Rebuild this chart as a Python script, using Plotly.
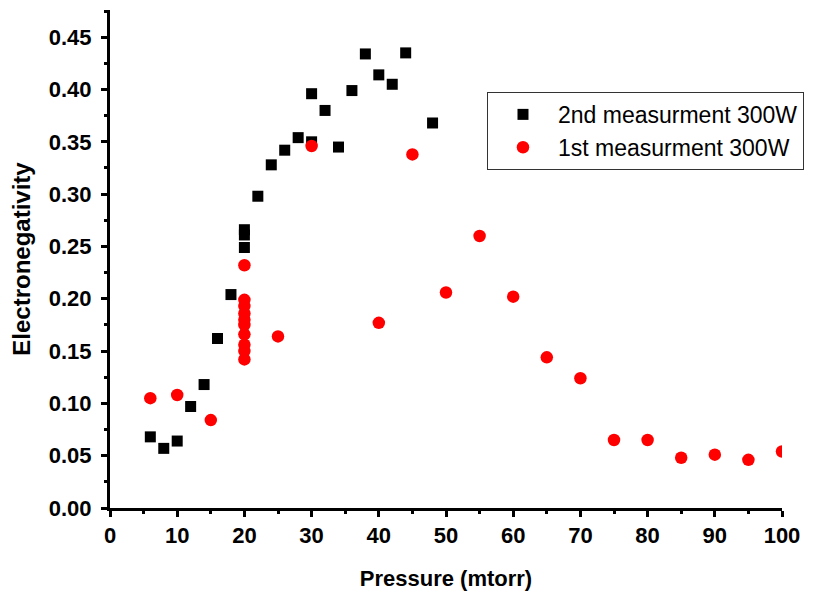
"""Electronegativity vs pressure, two measurement series at 300W."""

import plotly.graph_objects as go

# 2nd measurement 300W (black squares)
p2 = [6, 8, 10, 12, 14, 16, 18, 20, 20, 20, 22, 24, 26, 28, 30, 30,
      32, 34, 36, 38, 40, 42, 44, 48]
en2 = [0.068, 0.057, 0.064, 0.097, 0.118, 0.162, 0.204, 0.249, 0.261, 0.266,
       0.298, 0.328, 0.342, 0.354, 0.350, 0.396, 0.380, 0.345, 0.399, 0.434,
       0.414, 0.405, 0.435, 0.368]

# 1st measurement 300W (red circles)
p1 = [6, 10, 15, 20, 20, 20, 20, 20, 20, 20, 20, 20, 20, 25, 30, 40, 45,
      50, 55, 60, 65, 70, 75, 80, 85, 90, 95, 100]
en1 = [0.105, 0.108, 0.084, 0.232, 0.199, 0.193, 0.186, 0.180, 0.175, 0.166,
       0.156, 0.150, 0.142, 0.164, 0.346, 0.177, 0.338, 0.206, 0.260, 0.202,
       0.144, 0.124, 0.065, 0.065, 0.048, 0.051, 0.046, 0.054]

FONT = "Liberation Sans, Arial, sans-serif"

fig = go.Figure()

fig.add_trace(
    go.Scatter(
        x=p2,
        y=en2,
        mode="markers",
        name="2nd measurment 300W",
        marker={"symbol": "square", "size": 11, "color": "#000000"},
    )
)
fig.add_trace(
    go.Scatter(
        x=p1,
        y=en1,
        mode="markers",
        name="1st measurment 300W",
        marker={"symbol": "circle", "size": 12.5, "color": "#ff0000"},
    )
)

axis_common = {
    "showline": True,
    "linecolor": "#000000",
    "linewidth": 3,
    "showgrid": False,
    "zeroline": False,
    "automargin": False,
    "ticks": "outside",
    "ticklen": 6,
    "tickwidth": 2.5,
    "tickcolor": "#000000",
    "tickfont": {"family": FONT, "size": 22, "color": "#000000", "weight": "bold"},
}

# the page body adds an 8px offset, so margins are shifted to compensate
fig.update_layout(
    width=827,
    height=594,
    paper_bgcolor="#ffffff",
    plot_bgcolor="#ffffff",
    margin={"l": 102, "r": 53, "t": 2, "b": 94},
    font={"family": FONT, "color": "#000000"},
    xaxis={
        **axis_common,
        "range": [0, 100],
        "tick0": 0,
        "dtick": 10,
        "ticklabelstandoff": 0,
        "minor": {"dtick": 5, "ticks": "outside", "ticklen": 3,
                  "tickwidth": 2.5, "tickcolor": "#000000"},
        "title": {"text": "Pressure (mtorr)", "standoff": 24,
                  "font": {"family": FONT, "size": 22, "weight": "bold"}},
    },
    yaxis={
        **axis_common,
        "range": [0, 0.476],
        "tick0": 0,
        "dtick": 0.05,
        "tickformat": ".2f",
        "ticklabelstandoff": 5,
        "minor": {"dtick": 0.025, "ticks": "outside", "ticklen": 3,
                  "tickwidth": 2.5, "tickcolor": "#000000"},
        "title": {"text": "Electronegativity", "standoff": 12,
                  "font": {"family": FONT, "size": 24, "weight": "bold"}},
    },
    legend={
        "x": 0.561,
        "y": 0.8355,
        "xanchor": "left",
        "yanchor": "top",
        "bordercolor": "#333333",
        "borderwidth": 1,
        "bgcolor": "#ffffff",
        "itemwidth": 60,
        "font": {"family": FONT, "size": 23, "color": "#000000"},
    },
    showlegend=True,
)

fig.write_html("out.html")
